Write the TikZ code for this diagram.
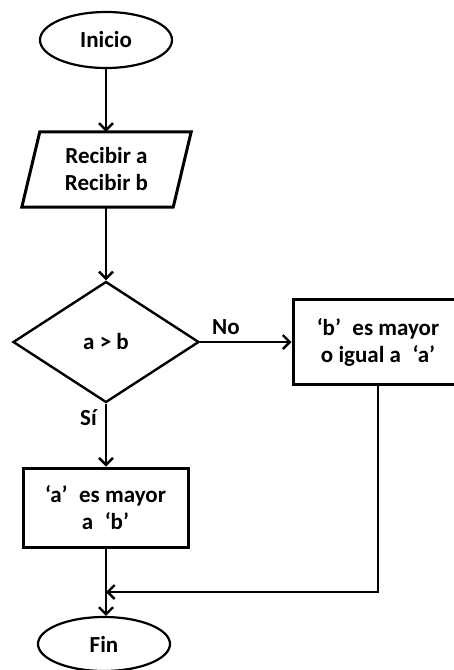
\documentclass[tikz,border=0pt]{standalone}
\usepackage{fontspec}
\setmainfont{Carlito}
\usetikzlibrary{shapes.geometric,arrows.meta,calc}
% wide gap used next to the quoted letters
\newcommand{\qsp}{\hspace{0.5em}}
\tikzset{
  txt/.style={font=\fontsize{23}{27}\selectfont\bfseries, align=center},
  term/.style={txt, ellipse, draw, line width=2.2pt, inner sep=0pt},
  procbox/.style={txt, rectangle, draw, line width=3pt, inner sep=0pt},
  decis/.style={txt, diamond, draw, line width=2.4pt, inner sep=0pt, aspect=1.54},
  flow/.style={line width=2.4pt, -{Straight Barb[length=7pt,width=14pt,line width=2.4pt]}},
  plain/.style={line width=2.6pt},
  lbl/.style={font=\fontsize{23}{27}\selectfont\bfseries, inner sep=0pt}
}
\begin{document}
\begin{tikzpicture}[x=1pt,y=-1pt]
  \useasboundingbox (0,0) rectangle (454,670);
  \clip (0,0) rectangle (454,670);
  \fill[white] (0,0) rectangle (454,670);

  % start
  \node[term, minimum width=132pt, minimum height=56pt] (ini) at (106,40) {Inicio};

  % input (parallelogram drawn around a plain node)
  \node[txt, minimum width=151pt, minimum height=75pt, inner sep=0pt] (inp) at (106.5,169.5) {Recibir a\\Recibir b};
  \draw[line width=3pt, line join=miter]
    ($(inp.north west)+(9,0)$) -- ($(inp.north east)+(9,0)$)
    -- ($(inp.south east)+(-9,0)$) -- ($(inp.south west)+(-9,0)$) -- cycle;

  % decision
  \node[decis, minimum width=186pt, minimum height=121pt] (dec) at (106,342) {a > b};

  % outcomes
  \node[procbox, minimum width=170pt, minimum height=85pt] (rb) at (378,342) {‘b’\qsp es mayor\\o igual a\qsp ‘a’};
  \node[procbox, minimum width=165pt, minimum height=79pt] (lb) at (105.5,507.5) {‘a’\qsp es mayor\\a\qsp ‘b’};

  % end
  \node[term, minimum width=132pt, minimum height=54pt] (fin) at (104,644) {Fin};

  \coordinate (join) at (106,592);

  % connectors
  \draw[flow] (ini.south) -- (ini.south |- inp.north);
  \draw[flow] (inp.south -| dec.north) -- (dec.north);
  \draw[flow] (dec.east) -- (rb.west);
  \draw[flow] (dec.south) -- (dec.south |- lb.north);
  \draw[flow] (lb.south -| join) -- (join |- fin.north);
  \draw[plain, line join=miter] (rb.south) -- (rb.south |- join) -- ($(join)+(8,0)$);
  \draw[flow] ($(join)+(10,0)$) -- (join);

  % branch labels
  \node[lbl, anchor=base west] (no) at (212,334) {No};
  \node[lbl, anchor=base west] (si) at (80,425) {Sí};
\end{tikzpicture}
\end{document}
